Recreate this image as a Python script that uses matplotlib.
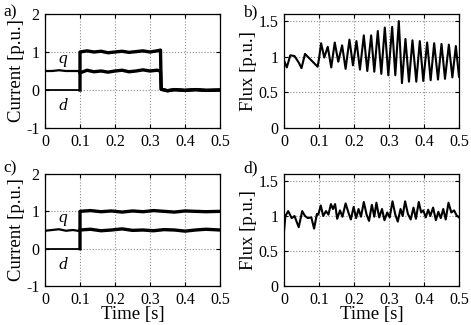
import numpy as np
import matplotlib
matplotlib.use('Agg')
import matplotlib.pyplot as plt
from matplotlib.ticker import FormatStrFormatter

plt.rcParams['font.family'] = ['Liberation Serif', 'DejaVu Serif']
plt.rcParams['font.size'] = 11

# panel a: currents (d steps up at 0.1 and trips at 0.33)
t_a = [0, 0.02, 0.04, 0.06, 0.08, 0.1, 0.1, 0.12, 0.14, 0.16, 0.18, 0.2, 0.22, 0.24,
       0.26, 0.28, 0.3, 0.32, 0.33, 0.332, 0.35, 0.37, 0.4, 0.43, 0.46, 0.5]
id_a = [0, 0, 0, 0, 0, 0, 1.0, 1.03, 1.0, 1.02, 0.98, 1.0, 1.02, 0.99, 1.01, 1.03,
        1.0, 1.03, 1.05, 0.02, -0.02, 0.01, -0.01, 0.01, -0.01, 0.0]
iq_a = [0.5, 0.5, 0.52, 0.5, 0.5, 0.5, 0.45, 0.52, 0.48, 0.5, 0.47, 0.5, 0.52, 0.48,
        0.5, 0.53, 0.5, 0.52, 0.5, 0.02, -0.02, 0.01, -0.01, 0.01, -0.01, 0.0]

# panel c: currents (d steps up at 0.1)
t_c = [0, 0.02, 0.04, 0.06, 0.08, 0.1, 0.1, 0.13, 0.16, 0.19, 0.22, 0.25, 0.28,
       0.31, 0.34, 0.37, 0.4, 0.43, 0.46, 0.5]
id_c = [0, 0, 0, 0, 0, 0, 1.0, 1.02, 0.99, 1.01, 0.98, 1.01, 0.99, 1.02, 1.0,
        0.98, 1.01, 1.0, 0.99, 1.0]
iq_c = [0.48, 0.5, 0.52, 0.48, 0.5, 0.47, 0.5, 0.52, 0.48, 0.5, 0.53, 0.49, 0.5,
        0.48, 0.51, 0.5, 0.47, 0.5, 0.52, 0.5]

# panel b: flux (peaks and troughs)
t_b = [0, 0.008, 0.018, 0.03, 0.042, 0.05, 0.06, 0.07, 0.082, 0.096, 0.1,
       0.106, 0.115, 0.125, 0.135, 0.145, 0.155, 0.166, 0.176, 0.187, 0.197,
       0.207, 0.217, 0.228, 0.238, 0.249, 0.258, 0.268, 0.278, 0.288, 0.298,
       0.309, 0.318, 0.328, 0.337, 0.347, 0.357, 0.367, 0.378, 0.388, 0.398,
       0.409, 0.419, 0.429, 0.44, 0.45, 0.46, 0.471, 0.481, 0.491, 0.5]
flux_b = [0.95, 0.85, 1.02, 1.01, 0.92, 0.84, 1.04, 0.99, 0.93, 0.86, 0.97,
          1.19, 0.99, 1.14, 0.85, 1.2, 0.93, 1.16, 0.83, 1.24, 0.88,
          1.22, 0.82, 1.3, 0.8, 1.3, 0.79, 1.36, 0.76, 1.41, 0.74,
          1.42, 0.74, 1.5, 0.63, 1.25, 0.65, 1.23, 0.65, 1.22, 0.66,
          1.2, 0.67, 1.19, 0.68, 1.18, 0.69, 1.17, 0.71, 1.15, 0.72]

# panel d: flux
t_d = [0, 0.004, 0.012, 0.022, 0.03, 0.042, 0.052, 0.06, 0.068, 0.078, 0.086,
       0.094, 0.098, 0.105, 0.112, 0.12, 0.127, 0.134, 0.14, 0.146, 0.152, 0.16,
       0.167, 0.176, 0.184, 0.191, 0.199, 0.206, 0.213, 0.22, 0.228, 0.236,
       0.243, 0.251, 0.258, 0.264, 0.272, 0.28, 0.287, 0.295, 0.302, 0.31,
       0.318, 0.325, 0.333, 0.339, 0.346, 0.354, 0.362, 0.37, 0.377, 0.385,
       0.392, 0.398, 0.405, 0.412, 0.418, 0.426, 0.434, 0.441, 0.448, 0.455,
       0.462, 0.47, 0.478, 0.486, 0.493, 0.5]
flux_d = [0.78, 1.0, 1.07, 0.97, 1.0, 0.84, 1.07, 1.0, 0.97, 0.98, 0.82,
          1.03, 1.02, 1.15, 1.0, 1.07, 1.02, 1.17, 1.1, 1.17, 0.96, 1.08,
          0.99, 1.18, 1.05, 0.95, 1.13, 0.97, 1.1, 0.99, 1.2, 1.02,
          0.93, 1.16, 0.99, 1.19, 0.98, 1.1, 0.94, 1.05, 0.98, 1.21,
          1.02, 0.92, 1.1, 1.0, 1.21, 1.03, 0.95, 1.12, 0.96, 1.2,
          1.05, 1.08, 0.98, 1.09, 1.0, 1.12, 0.94, 1.06, 0.97, 1.1,
          0.95, 1.19, 1.05, 1.08, 1.01, 0.98]

xticks = [0, 0.1, 0.2, 0.3, 0.4, 0.5]

fig = plt.figure(figsize=(4.71, 3.25), dpi=100)
L1, R1 = 45 / 471, 220 / 471
L2, R2 = 284 / 471, 459 / 471
top_b, top_h = (325 - 128) / 325, 114 / 325
bot_b, bot_h = (325 - 286) / 325, 112 / 325
ax_a = fig.add_axes([L1, top_b, R1 - L1, top_h])
ax_b = fig.add_axes([L2, top_b, R2 - L2, top_h])
ax_c = fig.add_axes([L1, bot_b, R1 - L1, bot_h])
ax_d = fig.add_axes([L2, bot_b, R2 - L2, bot_h])


def style(ax, ylim, yticks, ylabel):
    ax.set_xlim(0, 0.5)
    ax.set_ylim(*ylim)
    ax.set_xticks(xticks)
    ax.set_yticks(yticks)
    ax.xaxis.set_major_formatter(FormatStrFormatter('%g'))
    ax.yaxis.set_major_formatter(FormatStrFormatter('%g'))
    ax.grid(True, linestyle=':', color='0.55', linewidth=0.8)
    ax.tick_params(direction='in', top=True, right=True, length=3, width=0.8,
                   labelsize=11.5, pad=4)
    ax.set_ylabel(ylabel, fontsize=13.5, labelpad=1)
    for s in ax.spines.values():
        s.set_linewidth(0.9)


def currents(ax, t, i_d, i_q, n_pre):
    # thin before the step, thick (ripple) after it
    ax.plot(t[:n_pre], i_d[:n_pre], color='k', lw=1.3)
    ax.plot(t[:n_pre], i_q[:n_pre], color='k', lw=1.6)
    ax.plot(t[n_pre - 1:], i_d[n_pre - 1:], color='k', lw=2.4)
    ax.plot(t[n_pre:], i_q[n_pre:], color='k', lw=2.4)
    ax.text(0.05, 0.6, 'q', fontstyle='italic', fontsize=12.5, ha='center', va='bottom')
    ax.text(0.05, -0.22, 'd', fontstyle='italic', fontsize=12.5, ha='center', va='top')


currents(ax_a, t_a, id_a, iq_a, 6)
currents(ax_c, t_c, id_c, iq_c, 6)
ax_b.plot(t_b, flux_b, color='k', lw=1.5)
ax_d.plot(t_d, flux_d, color='k', lw=1.5)

for ax in (ax_a, ax_c):
    style(ax, (-1, 2), [-1, 0, 1, 2], 'Current [p.u.]')
for ax in (ax_b, ax_d):
    style(ax, (0, 1.6), [0, 0.5, 1, 1.5], 'Flux [p.u.]')
ax_c.set_xlabel('Time [s]', fontsize=13.5, labelpad=-1)
ax_d.set_xlabel('Time [s]', fontsize=13.5, labelpad=-1)

for lbl, x, y in [('a)', 3, 12), ('b)', 243, 12), ('c)', 3, 168), ('d)', 243, 168)]:
    fig.text(x / 471, 1 - y / 325, lbl, fontsize=12.5, ha='left', va='center')

fig.savefig('out.png', dpi=100)
